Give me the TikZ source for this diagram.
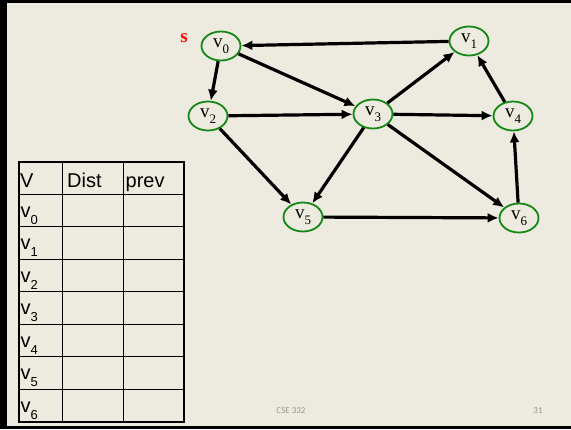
\documentclass[tikz,border=0pt]{standalone}
\usepackage{fontspec}
\setmainfont{Liberation Serif}
\newfontfamily\tabfont{Liberation Sans}
\newfontfamily\footfont{Carlito}
\usetikzlibrary{shapes.geometric,arrows.meta}
\definecolor{bg}{RGB}{237,235,224}
\definecolor{ngreen}{RGB}{20,135,20}
\definecolor{foot}{RGB}{150,150,150}
\newcommand{\gv}[1]{v\raisebox{-0.3em}{\fontsize{13}{13}\selectfont #1}}
\newcommand{\tv}[1]{v\raisebox{-0.35em}{\fontsize{13}{13}\selectfont #1}}
\tikzset{
  vert/.style={ellipse, draw=ngreen, line width=1.8pt, minimum width=39pt, minimum height=29pt, inner sep=0pt, font=\fontsize{19}{19}\selectfont},
  edge/.style={line width=3.2pt, -{Latex[length=11pt,width=10pt]}},
  cell/.style={anchor=base west, inner sep=0pt, font=\tabfont\fontsize{20}{20}\selectfont},
  grid/.style={line width=1pt, black},
  foottext/.style={font=\footfont\fontsize{9}{9}\selectfont, text=foot, inner sep=0pt}
}
\begin{document}
\begin{tikzpicture}[x=1pt,y=-1pt]
\useasboundingbox (0,0) rectangle (571,429);
\fill[black] (0,0) rectangle (571,429);
\fill[bg] (6.5,3) rectangle (571,426);

% graph nodes
\node[vert] (v0) at (221,46) {\gv{0}};
\node[vert] (v1) at (469,41) {\gv{1}};
\node[vert] (v2) at (208,116) {\gv{2}};
\node[vert] (v3) at (373,114) {\gv{3}};
\node[vert] (v4) at (513,116) {\gv{4}};
\node[vert] (v5) at (303,217) {\gv{5}};
\node[vert] (v6) at (519,218) {\gv{6}};
\node[text=red, font=\bfseries\fontsize{19}{19}\selectfont, inner sep=0pt] (s) at (184,38) {s};

% edges
\draw[edge] (v1) -- (v0);
\draw[edge] (v0) -- (v2);
\draw[edge] (v0) -- (v3);
\draw[edge] (v2) -- (v3);
\draw[edge] (v2) -- (v5);
\draw[edge] (v3) -- (v5);
\draw[edge] (v3) -- (v1);
\draw[edge] (v3) -- (v4);
\draw[edge] (v3) -- (v6);
\draw[edge] (v4) -- (v1);
\draw[edge] (v6) -- (v4);
\draw[edge] (v5) -- (v6);

% table
\draw[grid, line width=1.4pt] (19,162) rectangle (184,422);
\foreach \y in {194,226.5,259,291.5,324,356.5,389} \draw[grid] (19,\y) -- (184,\y);
\draw[grid] (62,162) -- (62,422);
\draw[grid] (123,162) -- (123,422);

\node[cell] (hV) at (20,187) {V};
\node[cell] (hD) at (67,187) {Dist};
\node[cell] (hP) at (125.5,187) {prev};
\node[cell] (r0) at (20.5,217) {\tv{0}};
\node[cell] (r1) at (20.5,249.5) {\tv{1}};
\node[cell] (r2) at (20.5,282) {\tv{2}};
\node[cell] (r3) at (20.5,314.5) {\tv{3}};
\node[cell] (r4) at (20.5,347) {\tv{4}};
\node[cell] (r5) at (20.5,379.5) {\tv{5}};
\node[cell] (r6) at (20.5,412) {\tv{6}};

% footer
\node[foottext] (cse) at (291,411) {CSE 332};
\node[foottext] (pg) at (538,411) {31};
\end{tikzpicture}
\end{document}
